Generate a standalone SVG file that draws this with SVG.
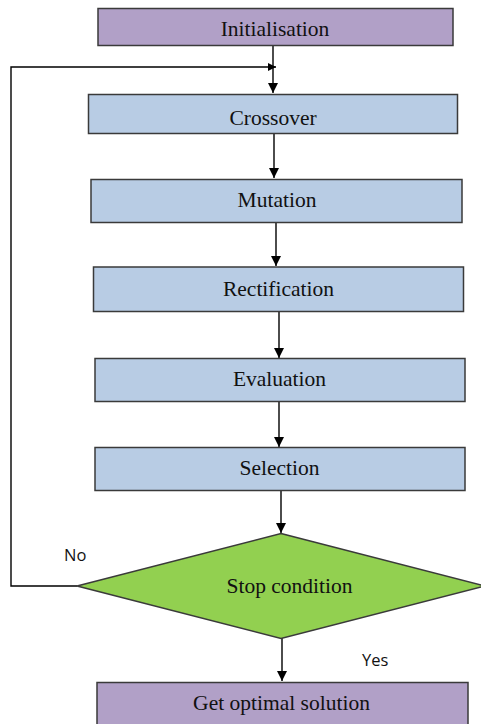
<svg xmlns="http://www.w3.org/2000/svg" width="481" height="724" viewBox="0 0 481 724">
<style>
.box{stroke:#3a3a3a;stroke-width:1.5}
.p{fill:#b1a0c7}
.b{fill:#b8cce4}
.g{fill:#92d050}
.t{font-family:"Liberation Serif",serif;font-size:21.5px;fill:#111;text-anchor:middle}
.s{font-family:"Open Sans","Liberation Sans",sans-serif;font-size:16.5px;fill:#111}
.c{stroke:#000;stroke-width:1.4;fill:none}
</style>
<defs>
<marker id="ah" viewBox="0 0 10 10" refX="10" refY="5" markerWidth="8" markerHeight="11" markerUnits="userSpaceOnUse" orient="auto">
<path d="M0,0 L10,5 L0,10 Z" fill="#000"/>
</marker>
<marker id="ahd" viewBox="0 0 10 10" refX="10" refY="5" markerWidth="12" markerHeight="10" markerUnits="userSpaceOnUse" orient="auto">
<path d="M0,0 L10,5 L0,10 Z" fill="#000"/>
</marker>
</defs>
<rect width="481" height="724" fill="#fff"/>
<g id="connectors">
<line class="c" x1="273" y1="46" x2="273" y2="93" marker-end="url(#ahd)"/>
<line class="c" x1="274" y1="134" x2="274" y2="178" marker-end="url(#ahd)"/>
<line class="c" x1="276" y1="223" x2="276" y2="266" marker-end="url(#ahd)"/>
<line class="c" x1="279" y1="312" x2="279" y2="358" marker-end="url(#ahd)"/>
<line class="c" x1="279" y1="402" x2="279" y2="447" marker-end="url(#ahd)"/>
<line class="c" x1="281" y1="491" x2="281" y2="533" marker-end="url(#ahd)"/>
<line class="c" x1="282" y1="638" x2="282" y2="681" marker-end="url(#ahd)"/>
<polyline class="c" points="77,586 11,586 11,67 276,67" marker-end="url(#ah)"/>
</g>
<g id="initialisation">
<rect class="box p" x="98" y="8.5" width="355" height="37"/>
<text class="t" x="275" y="36">Initialisation</text>
</g>
<g id="crossover">
<rect class="box b" x="88.5" y="94.5" width="369" height="39"/>
<text class="t" x="273" y="125">Crossover</text>
</g>
<g id="mutation">
<rect class="box b" x="91" y="179.5" width="371" height="43"/>
<text class="t" x="277" y="207">Mutation</text>
</g>
<g id="rectification">
<rect class="box b" x="93.5" y="267" width="370" height="44.5"/>
<text class="t" x="278.5" y="296">Rectification</text>
</g>
<g id="evaluation">
<rect class="box b" x="95" y="358.5" width="370" height="43"/>
<text class="t" x="279.5" y="386">Evaluation</text>
</g>
<g id="selection">
<rect class="box b" x="95" y="447.5" width="370" height="43"/>
<text class="t" x="279.5" y="474.5">Selection</text>
</g>
<g id="stop-condition">
<polygon class="box g" points="281,533.5 485,586 281,638.5 77,586"/>
<text class="t" x="289.5" y="593">Stop condition</text>
</g>
<g id="get-optimal-solution">
<rect class="box p" x="97" y="682.5" width="371" height="50"/>
<text class="t" x="281.5" y="709.5">Get optimal solution</text>
</g>
<g id="labels">
<text class="s" x="64" y="561">No</text>
<text class="s" x="362" y="666">Yes</text>
</g>
</svg>
